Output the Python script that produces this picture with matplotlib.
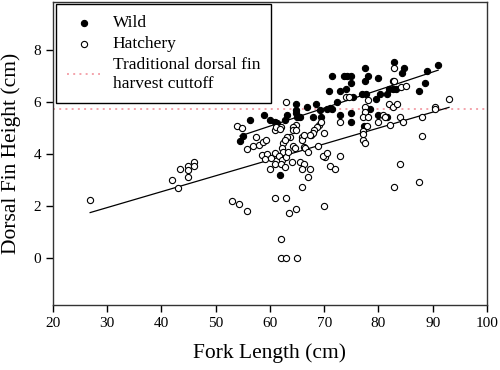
import numpy as np
import matplotlib
matplotlib.use("Agg")
import matplotlib.pyplot as plt

plt.rcParams['font.family'] = ['Liberation Serif', 'DejaVu Serif']

# wild fish: fork length (cm), dorsal fin height (cm)
wild_len = [82.9, 84.8, 91.0, 89.0, 84.4, 77.5, 78.0, 71.5, 73.7, 74.3, 75.0,
            80.0, 82.7, 77.5, 75.0, 88.5, 74.1, 72.9, 70.9, 87.5, 76.9, 77.8,
            82.0, 82.7, 83.3, 80.3, 81.5, 79.5, 72.4, 75.4, 68.5, 66.9, 64.9,
            64.9, 64.9, 70.5, 71.4, 69.2, 68.0, 69.4, 65.5, 63.1, 60.9, 61.4,
            62.8, 58.9, 60.0, 56.3, 72.9, 74.9, 74.9, 78.4, 80.0, 81.5, 77.3,
            67.5, 61.9, 54.5, 55.0, 71.1, 65.0]
wild_dfh = [7.53, 7.32, 7.42, 7.20, 7.13, 7.30, 7.00, 7.00, 7.00, 7.00, 7.00,
            6.91, 6.81, 6.81, 6.72, 6.72, 6.50, 6.42, 6.42, 6.42, 6.30, 6.33,
            6.52, 6.49, 6.52, 6.31, 6.33, 6.12, 6.01, 6.20, 5.91, 5.82, 5.91,
            5.69, 5.59, 5.72, 5.72, 5.69, 5.41, 5.41, 5.41, 5.50, 5.24, 5.18,
            5.33, 5.50, 5.33, 5.33, 5.50, 5.60, 5.22, 5.73, 5.50, 5.41, 5.09,
            4.73, 3.19, 4.51, 4.71, 5.76, 5.44]

# hatchery fish
hat_len = [82.9, 82.9, 84.2, 85.1, 74.1, 74.6, 78.0, 63.0, 82.0, 82.6, 83.5,
           77.5, 77.5, 90.4, 90.4, 93.0, 77.2, 78.1, 80.9, 81.2, 80.0, 82.1,
           84.0, 84.5, 88.0, 72.9, 64.9, 64.3, 64.3, 64.9, 60.9, 62.0, 69.1,
           69.4, 68.6, 68.2, 67.9, 67.4, 70.0, 77.1, 77.5, 88.0, 63.7, 63.1,
           65.9, 66.0, 66.3, 62.5, 62.8, 57.4, 56.9, 58.0, 58.8, 59.3, 62.2,
           62.5, 64.3, 64.6, 66.2, 66.5, 68.9, 67.1, 58.5, 59.4, 59.1, 60.3,
           60.9, 61.7, 62.2, 63.0, 63.4, 64.0, 65.5, 66.3, 70.2, 69.7, 70.5,
           72.9, 71.1, 72.0, 60.9, 62.0, 60.0, 65.9, 67.4, 62.8, 67.0, 84.0,
           77.95, 77.1, 77.1, 54.0, 54.9, 55.8, 41.9, 43.0, 43.4, 45.0, 45.0,
           45.0, 46.0, 46.0, 26.9, 53.0, 54.4, 55.8, 60.9, 63.0, 66.0, 63.5,
           64.9, 70.0, 62.0, 62.0, 63.0, 65.0, 82.9, 87.5, 61.1, 61.9]
hat_dfh = [7.32, 6.81, 6.59, 6.62, 6.20, 6.20, 6.10, 6.01, 5.91, 5.82, 5.91,
           5.82, 5.63, 5.82, 5.72, 6.12, 5.44, 5.44, 5.50, 5.41, 5.22, 5.12,
           5.41, 5.22, 5.41, 5.22, 5.12, 5.05, 4.92, 4.92, 4.92, 5.03, 5.12,
           5.22, 5.03, 4.92, 4.83, 4.73, 4.82, 4.54, 4.41, 4.71, 4.64, 4.64,
           4.67, 4.56, 4.73, 4.41, 4.54, 4.64, 4.32, 4.35, 4.47, 4.54, 4.22,
           4.09, 4.32, 4.22, 4.28, 4.22, 4.32, 4.09, 3.96, 4.00, 3.83, 3.87,
           4.03, 3.92, 3.77, 3.90, 4.09, 3.70, 3.70, 3.62, 3.90, 3.92, 4.03,
           3.92, 3.55, 3.42, 3.62, 3.62, 3.42, 3.42, 3.42, 3.51, 3.13, 3.62,
           5.09, 4.90, 4.78, 5.09, 5.01, 4.19, 3.00, 2.70, 3.41, 3.55, 3.38,
           3.13, 3.70, 3.55, 2.22, 2.21, 2.10, 1.81, 2.32, 2.32, 2.72, 1.72,
           1.91, 2.01, 0.72, 0.00, 0.00, 0.00, 2.72, 2.91, 5.05, 4.95]

# linear fits (slope, intercept)
wild_fit = [0.0694, 0.913]
hat_fit = [0.0612, 0.107]
cutoff = 5.73

fig = plt.figure(figsize=(5.0, 3.7), dpi=100)
ax = fig.add_axes([0.1054, 0.1757, 0.8686, 0.8189])

ax.axhline(cutoff, color='#f4a3ab', linestyle=(0, (1, 2.2)), linewidth=1.4,
           zorder=1, label='Traditional dorsal fin\nharvest cuttoff')

ax.scatter(wild_len, wild_dfh, s=20, facecolor='black', edgecolor='black',
           linewidth=0.8, zorder=3, label='Wild')
ax.scatter(hat_len, hat_dfh, s=20, facecolor='white', edgecolor='black',
           linewidth=0.8, zorder=3, label='Hatchery')

xw = np.array([min(wild_len), max(wild_len)])
ax.plot(xw, wild_fit[0] * xw + wild_fit[1], color='black', linewidth=0.9, zorder=2)
xh = np.array([min(hat_len), max(hat_len)])
ax.plot(xh, hat_fit[0] * xh + hat_fit[1], color='black', linewidth=0.9, zorder=2)

ax.set_xlim(20, 100)
ax.set_ylim(-1.8, 9.85)
ax.set_xticks(np.arange(20, 101, 10))
ax.set_yticks([0, 2, 4, 6, 8])
ax.tick_params(direction='out', length=5, width=1, labelsize=11, colors='black')
for s in ax.spines.values():
    s.set_linewidth(1)
    s.set_color('#333333')

ax.set_xlabel('Fork Length (cm)', fontsize=15.5, labelpad=10)
ax.set_ylabel('Dorsal Fin Height (cm)', fontsize=15.5, labelpad=9)

handles, labels = ax.get_legend_handles_labels()
order = [1, 2, 0]
leg = ax.legend([handles[i] for i in order], [labels[i] for i in order],
                loc='upper left', bbox_to_anchor=(0.008, 0.994), borderaxespad=0,
                fontsize=12.5, fancybox=False, framealpha=1, edgecolor='black',
                handlelength=1.9, handletextpad=0.7, borderpad=0.65,
                labelspacing=0.28)
leg.get_frame().set_linewidth(1)

fig.savefig('out.png', dpi=100)
